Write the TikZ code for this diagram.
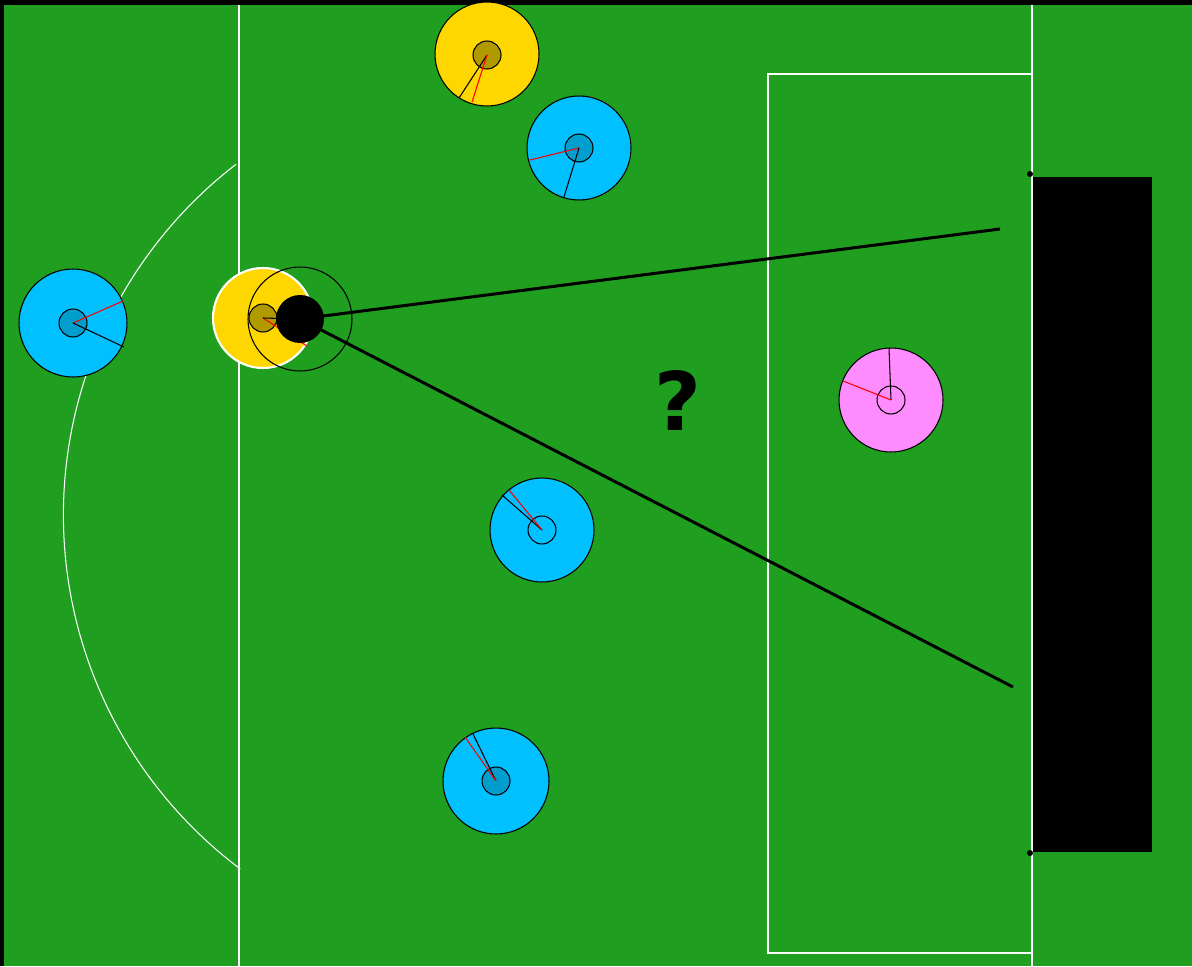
\documentclass[tikz,border=0pt]{standalone}
\usepackage{fontspec}
\setsansfont{DejaVu Sans}
\usetikzlibrary{positioning}
\definecolor{fieldGreen}{HTML}{209E20}
\definecolor{botYellow}{HTML}{FFD700}
\definecolor{botYellowDark}{HTML}{B09A00}
\definecolor{botBlue}{HTML}{00C0FF}
\definecolor{botBlueDark}{HTML}{009ECC}
\definecolor{botPink}{HTML}{FF8CFF}

\begin{document}
\begin{tikzpicture}[x=0.02cm, y=-0.02cm,
    robot/.style={circle, draw=black, line width=0.6pt, inner sep=0pt,
                  minimum size=2.08cm},
    core/.style={circle, draw=black, line width=0.6pt, inner sep=0pt,
                 minimum size=0.56cm},
    fieldline/.style={draw=white, line width=0.6pt},
    head/.style={draw=black, line width=0.6pt},
    kick/.style={draw=red, line width=0.6pt},
    ray/.style={draw=black, line width=1.7pt},
  ]
    % background and field
    \fill[black] (0,0) rectangle (1192,966);
    \useasboundingbox (0,0) rectangle (1192,966);
    \fill[fieldGreen] (4,5) rectangle (1192,966);

    % field markings
    \draw[fieldline] (239,5) -- (239,966);
    \draw[fieldline] (1032,5) -- (1032,966);
    \draw[fieldline] (1032,74) -- (768,74) -- (768,953) -- (1032,953);
    \draw[fieldline] (506,515) ++(126.9:442.6) arc[start angle=126.9,
      end angle=232.4, radius=442.6];

    % goal
    \fill[black] (1033,177) rectangle (1152,852);
    \fill[black] (1030,174) circle[radius=3];
    \fill[black] (1030,853) circle[radius=3];

    % robots
    \node[robot, fill=botYellow] (y1) at (487,54) {};
    \node[core, fill=botYellowDark] (y1c) at (487,55) {};
    \draw[head] (y1c.center) -- (459,98);
    \draw[kick] (y1c.center) -- (472,102);

    \node[robot, fill=botBlue] (b1) at (579,148) {};
    \node[core, fill=botBlueDark] (b1c) at (579,148) {};
    \draw[kick] (b1c.center) -- (530,160);
    \draw[head] (b1c.center) -- (564,197);

    \node[robot, fill=botBlue, minimum size=2.16cm] (b2) at (73,323) {};
    \node[core, fill=botBlueDark] (b2c) at (73,323) {};
    \draw[kick] (b2c.center) -- (123,301);
    \draw[head] (b2c.center) -- (124,347);

    \node[robot, fill=botPink] (p1) at (891,400) {};
    \node[core] (p1c) at (891,400) {};
    \draw[head] (p1c.center) -- (889,348);
    \draw[kick] (p1c.center) -- (843,381);

    \node[robot, fill=botBlue] (b3) at (542,530) {};
    \node[core] (b3c) at (542,530) {};
    \draw[head] (b3c.center) -- (502,495);
    \draw[kick] (b3c.center) -- (509,490);

    \node[robot, fill=botBlue, minimum size=2.12cm] (b4) at (496,781) {};
    \node[core, fill=botBlueDark] (b4c) at (496,781) {};
    \draw[head] (b4c.center) -- (473,734);
    \draw[kick] (b4c.center) -- (465,737);

    % striker with ball
    \node[robot, fill=botYellow, draw=white, line width=1.2pt,
          minimum size=2cm] (y2) at (263,318) {};
    \node[core, fill=botYellowDark] (y2c) at (263,318) {};
    \draw[kick] (y2c.center) -- (307,346);
    \draw[head] (y2c.center) -- (300,319);
    \node[circle, draw=black, line width=0.6pt, inner sep=0pt,
          minimum size=2.08cm] (reach) at (300,319) {};
    \node[circle, fill=black, inner sep=0pt, minimum size=0.96cm]
      (ball) at (300,319) {};

    % shot cone
    \coordinate (postA) at (1000,229);
    \coordinate (postB) at (1013,687);
    \draw[ray] (ball.center) -- (postA);
    \draw[ray] (ball.center) -- (postB);

    \node[font=\sffamily\bfseries\fontsize{46}{46}\selectfont]
      (ask) at (678,401) {?};
  \end{tikzpicture}
\end{document}
